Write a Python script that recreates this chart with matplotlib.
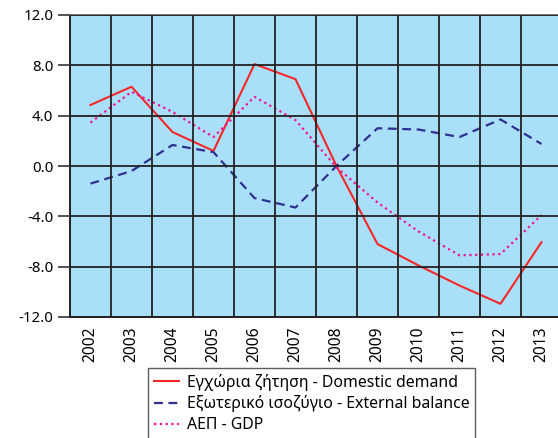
import matplotlib
matplotlib.use("Agg")
import matplotlib.pyplot as plt
from matplotlib.ticker import FixedLocator, FormatStrFormatter

plt.rcParams['font.family'] = ['Noto Sans', 'DejaVu Sans']

years = ["2002", "2003", "2004", "2005", "2006", "2007",
         "2008", "2009", "2010", "2011", "2012", "2013"]
domestic_demand = [4.85, 6.3, 2.7, 1.2, 8.1, 6.9, 0.0, -6.2, -7.9, -9.5, -10.95, -6.05]
external_balance = [-1.4, -0.4, 1.67, 1.1, -2.55, -3.3, 0.0, 3.0, 2.9, 2.3, 3.7, 1.75]
gdp = [3.45, 5.9, 4.3, 2.3, 5.5, 3.65, -0.1, -2.9, -5.2, -7.1, -7.0, -3.9]

labels = ["Εγχώρια ζήτηση - Domestic demand",
          "Εξωτερικό ισοζύγιο - External balance",
          "ΑΕΠ - GDP"]

fig = plt.figure(figsize=(5.58, 4.38), dpi=100)
ax = fig.add_axes([70 / 558, 121 / 438, 492 / 558, 302 / 438])
ax.set_facecolor("#aadff9")

x = list(range(len(years)))
ax.plot(x, domestic_demand, color="#f42828", linewidth=1.5, label=labels[0])
ax.plot(x, external_balance, color="#2e3192", linewidth=1.6,
        linestyle=(0, (4, 2.5)), label=labels[1])
ax.plot(x, gdp, color="#f0109a", linewidth=1.6,
        linestyle=(0, (1, 1.6)), label=labels[2])

ax.set_xlim(-0.5, len(years) - 0.5)
ax.set_ylim(-12, 12)
ax.set_xticks(x)
ax.set_xticklabels(years, rotation=90, fontsize=11.2)
ax.xaxis.set_minor_locator(FixedLocator([i - 0.5 for i in range(len(years) + 1)]))
ax.set_yticks([-12, -8, -4, 0, 4, 8, 12])
ax.yaxis.set_major_formatter(FormatStrFormatter("%.1f"))
ax.tick_params(axis="y", labelsize=10.8, length=9, width=1.2, color="#333333", pad=3)
ax.tick_params(axis="x", which="both", length=0, pad=7)
ax.grid(True, axis="y", which="major", color="#222222", linewidth=1.3)
ax.grid(True, axis="x", which="minor", color="#222222", linewidth=1.3)
ax.set_axisbelow(False)
for side in ["left", "bottom"]:
    ax.spines[side].set_color("#222222")
    ax.spines[side].set_linewidth(1.4)
for side in ["top", "right"]:
    ax.spines[side].set_color("#777777")
    ax.spines[side].set_linewidth(1.4)

leg = fig.legend(loc="upper left", bbox_to_anchor=(148 / 558, 70 / 438),
                 frameon=True, fancybox=False, edgecolor="#333333",
                 fontsize=11.4, handlelength=1.6, handletextpad=0.5,
                 borderpad=0.35, labelspacing=0.3, borderaxespad=0)
leg.get_frame().set_linewidth(1.0)

fig.savefig("out.png", dpi=100)
